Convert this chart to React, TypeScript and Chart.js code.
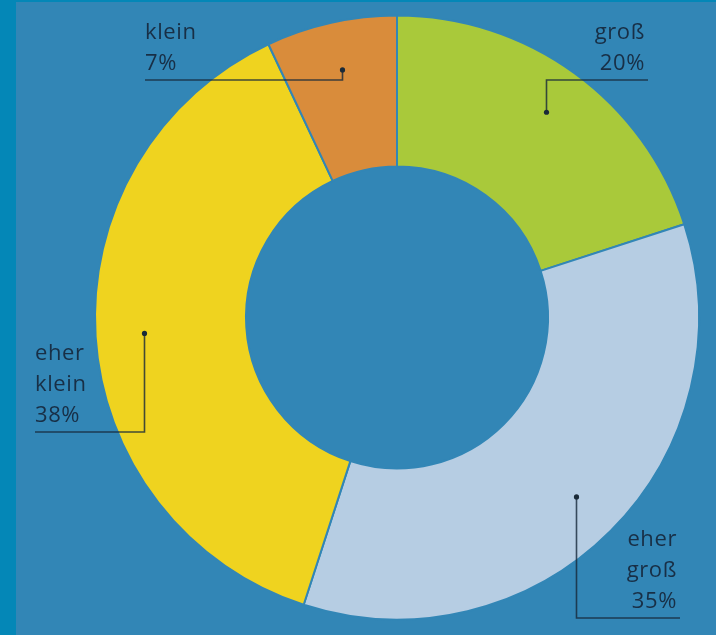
import React, { useEffect, useRef } from "react";
import { Chart, registerables } from "chart.js";

Chart.register(...registerables);

const categories = ["groß", "eher groß", "eher klein", "klein"];
const shares = [20, 35, 38, 7];
const sliceColors = ["#a9c93a", "#b6cde3", "#efd31f", "#d98c3b"];

// leader-line layout per slice: elbow y, horizontal end x, text side
const leaderElbowY = [80, 618, 432, 80];
const leaderEndX = [648, 680, 35, 145];
const leaderAlign: ("left" | "right")[] = ["right", "right", "left", "left"];

const BG_OUTER = "#0487b7";
const BG_INNER = "#3286b6";
const INK = "#182f46";
const FONT = "22px 'Open Sans', Lato, sans-serif";

export default function App() {
  const ref = useRef<HTMLCanvasElement | null>(null);

  useEffect(() => {
    if (!ref.current) return;

    const bgPlugin = {
      id: "bg",
      beforeDraw(chart: any) {
        const { ctx, width, height } = chart;
        ctx.save();
        ctx.fillStyle = BG_OUTER;
        ctx.fillRect(0, 0, width, height);
        ctx.fillStyle = BG_INNER;
        ctx.fillRect(16, 2, width - 16, height - 2);
        ctx.restore();
      },
    };

    const leaderPlugin = {
      id: "leaders",
      afterDatasetsDraw(chart: any) {
        const { ctx } = chart;
        const meta = chart.getDatasetMeta(0);
        ctx.save();
        meta.data.forEach((arc: any, i: number) => {
          const p = arc.getProps(["x", "y", "startAngle", "endAngle", "innerRadius", "outerRadius"], true);
          const mid = (p.startAngle + p.endAngle) / 2;
          const r = p.innerRadius + (p.outerRadius - p.innerRadius) * 0.68;
          const dx = p.x + Math.cos(mid) * r;
          const dy = p.y + Math.sin(mid) * r;
          const ey = leaderElbowY[i];
          const ex = leaderEndX[i];
          ctx.strokeStyle = "rgba(22,40,58,0.8)";
          ctx.lineWidth = 1.6;
          ctx.beginPath();
          ctx.moveTo(Math.round(dx) + 0.5, dy);
          ctx.lineTo(Math.round(dx) + 0.5, ey);
          ctx.lineTo(ex, ey);
          ctx.stroke();
          ctx.fillStyle = "#1a2a38";
          ctx.beginPath();
          ctx.arc(Math.round(dx) + 0.5, dy, 2.6, 0, Math.PI * 2);
          ctx.fill();

          const lines = [...categories[i].split(" "), `${shares[i]}%`];
          ctx.font = FONT;
          (ctx as any).letterSpacing = "0.6px";
          ctx.fillStyle = INK;
          ctx.textAlign = leaderAlign[i];
          ctx.textBaseline = "alphabetic";
          const tx = leaderAlign[i] === "right" ? ex - 3 : ex;
          lines.forEach((t, k) => {
            const baseline = ey - 10 - (lines.length - 1 - k) * 31;
            ctx.fillText(t, tx, baseline);
          });
        });
        ctx.restore();
      },
    };

    const chart = new Chart(ref.current, {
      type: "doughnut",
      data: {
        labels: categories,
        datasets: [
          {
            data: shares,
            backgroundColor: sliceColors,
            borderColor: BG_INNER,
            borderWidth: 2,
          },
        ],
      },
      options: {
        responsive: false,
        animation: false,
        cutout: "50%",
        layout: { padding: { left: 94, right: 16, top: 14, bottom: 14 } },
        plugins: {
          legend: { display: false },
          tooltip: { enabled: false },
        },
      },
      plugins: [bgPlugin, leaderPlugin],
    });

    return () => chart.destroy();
  }, []);

  return (
    <div style={{ position: "absolute", left: 0, top: 0, width: 716, height: 635 }}>
      <canvas ref={ref} width={716} height={635} style={{ display: "block" }} />
    </div>
  );
}
